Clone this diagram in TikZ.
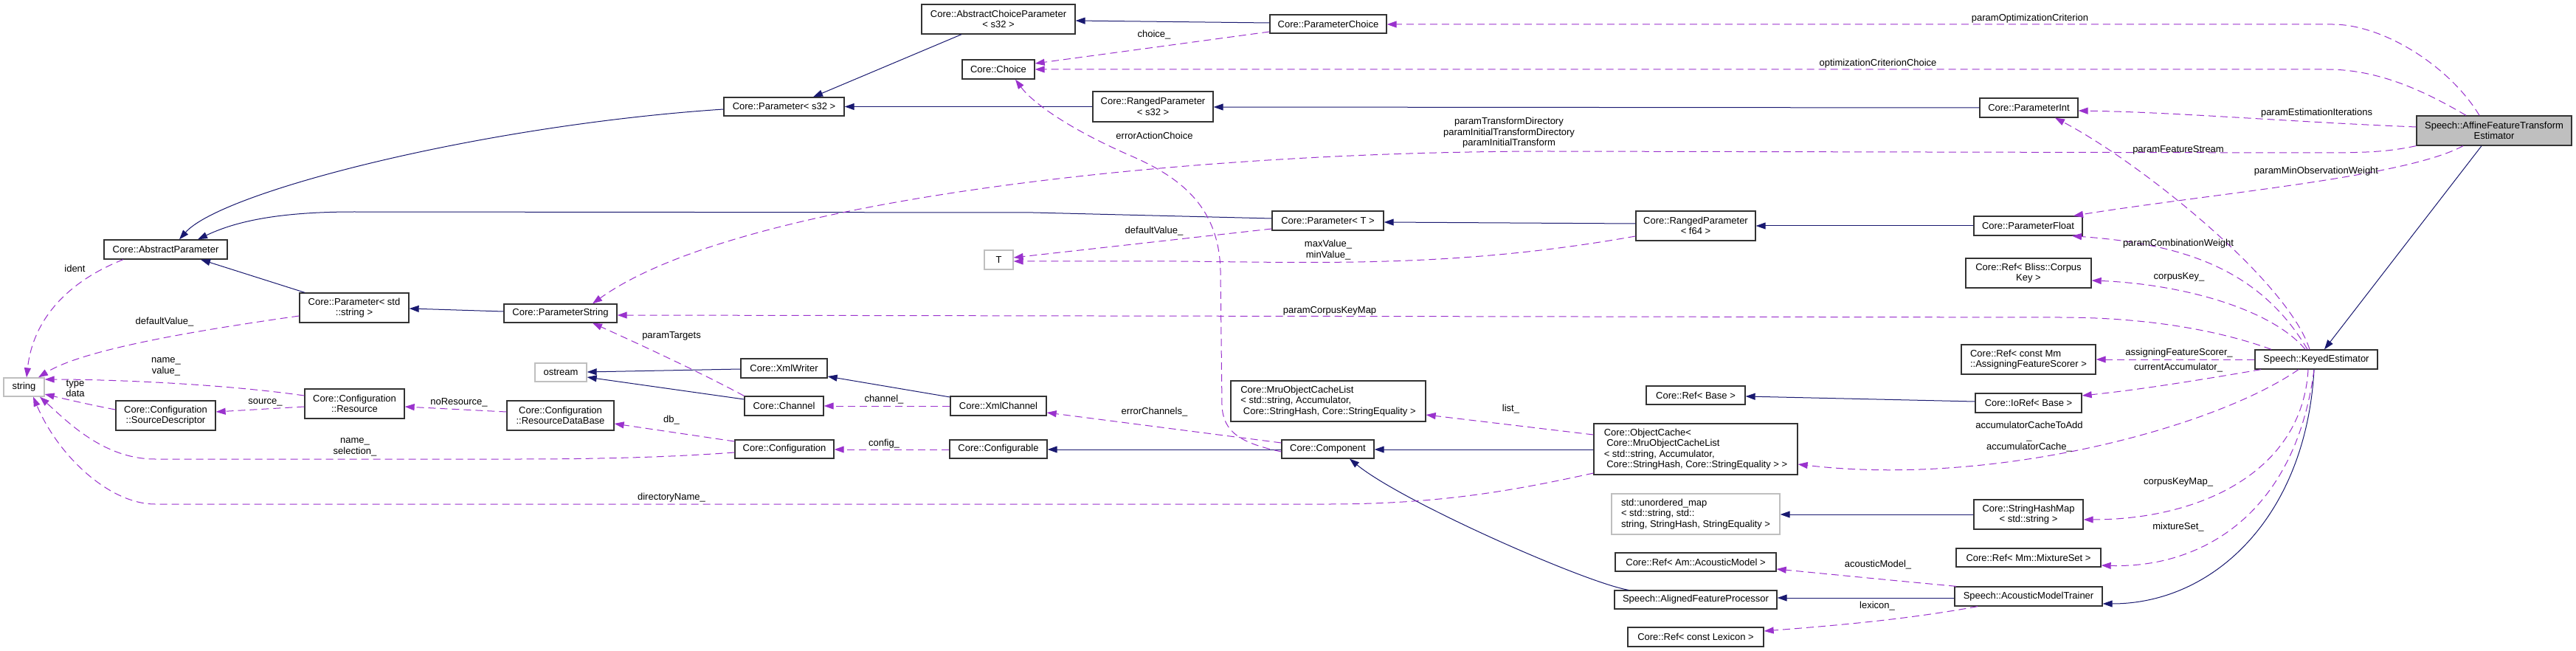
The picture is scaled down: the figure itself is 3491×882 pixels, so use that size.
\documentclass[tikz,border=0pt]{standalone}
\usepackage{fontspec}
\setmainfont{Liberation Sans}
\usetikzlibrary{arrows.meta}
\definecolor{inhc}{HTML}{191970}
\definecolor{usec}{HTML}{9A32CD}
\definecolor{grayb}{HTML}{BFBFBF}
\begin{document}
\begin{tikzpicture}[x=1pt,y=-1pt,
  cls/.style={draw=black!80, line width=1.3pt, fill=white, inner sep=0pt, align=center, font=\fontsize{13}{14.5}\selectfont},
  ext/.style={cls, draw=grayb},
  lcls/.style={cls, align=left},
  lbl/.style={inner sep=0pt, align=center, font=\fontsize{13}{14.5}\selectfont},
  inh/.style={draw=inhc, line width=1pt, -{Triangle[length=13pt,width=9pt]}},
  use/.style={draw=usec, line width=1pt, dash pattern=on 10pt off 6pt, -{Triangle[length=13pt,width=9pt]}},
]
\fill[white] (0,0) rectangle (3491,882);
\useasboundingbox (0,0) rectangle (3491,882);

% nodes
\node[cls, minimum width=167, minimum height=26] (AbsPar) at (224.5,338) {Core::AbstractParameter};
\node[cls, minimum width=148, minimum height=40] (ParStdStr) at (480,417) {Core::Parameter< std\\::string >};
\node[cls, minimum width=153, minimum height=25] (ParStr) at (759.5,424.5) {Core::ParameterString};
\node[ext, minimum width=55, minimum height=25] (string) at (32.5,524.5) {string};
\node[cls, minimum width=135, minimum height=40] (SrcDesc) at (224.5,563) {Core::Configuration\\::SourceDescriptor};
\node[cls, minimum width=135, minimum height=40] (Resource) at (480.5,547) {Core::Configuration\\::Resource};
\node[cls, minimum width=145, minimum height=40] (ResDB) at (759.5,563) {Core::Configuration\\::ResourceDataBase};
\node[ext, minimum width=70, minimum height=25] (ostream) at (760,504.5) {ostream};
\node[cls, minimum width=117, minimum height=26] (XmlWriter) at (1062.5,499) {Core::XmlWriter};
\node[cls, minimum width=107, minimum height=26] (Channel) at (1062.5,550) {Core::Channel};
\node[cls, minimum width=134, minimum height=25] (Config) at (1063,608.5) {Core::Configuration};
\node[cls, minimum width=130, minimum height=26] (XmlChannel) at (1353,550) {Core::XmlChannel};
\node[cls, minimum width=132, minimum height=25] (Configurable) at (1353,608.5) {Core::Configurable};
\node[cls, minimum width=125, minimum height=25] (Component) at (1799.5,608.5) {Core::Component};
\node[lcls, minimum width=264, minimum height=55] (MruList) at (1800,543.5) {Core::MruObjectCacheList\\< std::string, Accumulator,\\\hspace*{3.6pt}Core::StringHash, Core::StringEquality >};
\node[lcls, minimum width=276, minimum height=69] (ObjCache) at (2298,608.5) {Core::ObjectCache<\\\hspace*{3.6pt}Core::MruObjectCacheList\\< std::string, Accumulator,\\\hspace*{3.6pt}Core::StringHash, Core::StringEquality > >};
\node[cls, minimum width=134, minimum height=25] (RefBase) at (2298,535.5) {Core::Ref< Base >};
\node[ext, align=left, minimum width=228, minimum height=55] (UMap) at (2298,696.5) {std::unordered\_map\\< std::string, std::\\string, StringHash, StringEquality >};
\node[cls, minimum width=218, minimum height=25] (RefAM) at (2298,761.5) {Core::Ref< Am::AcousticModel >};
\node[cls, minimum width=220, minimum height=25] (AFP) at (2298,812.5) {Speech::AlignedFeatureProcessor};
\node[cls, minimum width=184, minimum height=26] (RefLex) at (2298,863) {Core::Ref< const Lexicon >};
\node[lcls, minimum width=182, minimum height=40] (RefAFS) at (2749,487) {Core::Ref< const Mm\\::AssigningFeatureScorer >};
\node[cls, minimum width=144, minimum height=26] (IoRef) at (2749,546) {Core::IoRef< Base >};
\node[cls, minimum width=148, minimum height=40] (SHM) at (2749,697) {Core::StringHashMap\\< std::string >};
\node[cls, minimum width=196, minimum height=25] (RefMix) at (2749,755.5) {Core::Ref< Mm::MixtureSet >};
\node[cls, minimum width=200, minimum height=26] (AMT) at (2749,808) {Speech::AcousticModelTrainer};
\node[cls, minimum width=166, minimum height=26] (KE) at (3139,487) {Speech::KeyedEstimator};
\node[cls, fill=grayb, minimum width=210, minimum height=40] (AFTE) at (3380,177) {Speech::AffineFeatureTransform\\Estimator};
\node[cls, minimum width=133, minimum height=26] (ParInt) at (2749.5,146) {Core::ParameterInt};
\node[cls, minimum width=147, minimum height=26] (ParFloat) at (2748.5,306) {Core::ParameterFloat};
\node[cls, minimum width=170, minimum height=40] (RefCorpus) at (2749,370) {Core::Ref< Bliss::Corpus\\Key >};
\node[cls, minimum width=162, minimum height=40] (RangedF64) at (2298,306) {Core::RangedParameter\\< f64 >};
\node[cls, minimum width=151, minimum height=26] (ParT) at (1799.5,299) {Core::Parameter< T >};
\node[ext, minimum width=39, minimum height=26] (T) at (1353.5,352) {T};
\node[cls, minimum width=163, minimum height=41] (RangedS32) at (1562.5,144.5) {Core::RangedParameter\\< s32 >};
\node[cls, minimum width=163, minimum height=25] (ParS32) at (1062.5,144.5) {Core::Parameter< s32 >};
\node[cls, minimum width=208, minimum height=40] (AbsChoice) at (1353,26) {Core::AbstractChoiceParameter\\< s32 >};
\node[cls, minimum width=98, minimum height=26] (Choice) at (1353,94) {Core::Choice};
\node[cls, minimum width=158, minimum height=25] (ParChoice) at (1800,32.5) {Core::ParameterChoice};

% inheritance
\draw[inh] (AbsChoice.south -| 1303,0) -- (ParS32.north -| 1102,0);
\draw[inh] (ParChoice.west |- 0,31) -- (AbsChoice.east |- 0,28);
\draw[inh] (ParS32.west |- 0,148) .. controls (650,170) and (300,260) .. (AbsPar.north -| 243,0);
\draw[inh] (RangedS32.west |- 0,144.5) -- (ParS32.east |- 0,144.5);
\draw[inh] (ParInt.west |- 0,146) -- (RangedS32.east |- 0,145);
\draw[inh] (ParT.west |- 0,296) -- (1400,288) -- (480,287) .. controls (370,287) and (315,302) .. (AbsPar.north -| 268,0);
\draw[inh] (RangedF64.west |- 0,303) -- (ParT.east |- 0,301);
\draw[inh] (ParFloat.west |- 0,306) -- (RangedF64.east |- 0,306);
\draw[inh] (ParStdStr.north -| 413,0) -- (AbsPar.south -| 272,0);
\draw[inh] (ParStr.west |- 0,422) -- (ParStdStr.east |- 0,418);
\draw[inh] (XmlWriter.west |- 0,500) -- (ostream.east |- 0,504);
\draw[inh] (Channel.west |- 0,541) -- (ostream.east |- 0,511);
\draw[inh] (XmlChannel.west |- 0,538) -- (XmlWriter.east |- 0,510);
\draw[inh] (Component.west |- 0,609) -- (Configurable.east |- 0,609);
\draw[inh] (ObjCache.west |- 0,609) -- (Component.east |- 0,609);
\draw[inh] (AFP.north -| 2207,0) .. controls (2150,790) and (1900,680) .. (Component.south -| 1829,0);
\draw[inh] (AMT.west |- 0,810) -- (AFP.east |- 0,810);
\draw[inh] (KE.south -| 3136,0) .. controls (3125,700) and (3000,818) .. (AMT.east |- 0,818);
\draw[inh] (AFTE.south -| 3363,0) -- (KE.north -| 3150,0);
\draw[inh] (IoRef.west |- 0,544) -- (RefBase.east |- 0,537);
\draw[inh] (SHM.west |- 0,697) -- (UMap.east |- 0,697);

% usage
\draw[use] (AFTE.north -| 3360,0) .. controls (3320,90) and (3230,33) .. (3161,33) -- (ParChoice.east |- 0,33);
\draw[use] (AFTE.north -| 3342,0) .. controls (3280,120) and (3220,94) .. (3153,94) -- (Choice.east |- 0,94);
\draw[use] (ParChoice.west |- 0,43) -- (Choice.east |- 0,86);
\draw[use] (AFTE.west |- 0,172) .. controls (3100,165) and (2950,152) .. (ParInt.east |- 0,150);
\draw[use] (AFTE.south west) .. controls (3230,207) and (3200,207) .. (3120,207) -- (2100,205) .. controls (1600,205) and (1000,270) .. (ParStr.north -| 803,0);
\draw[use] (AFTE.south -| 3338,0) .. controls (3260,240) and (3000,262) .. (ParFloat.north -| 2810,0);
\draw[use] (KE.north -| 3130,0) .. controls (3100,380) and (2900,220) .. (ParInt.south -| 2785,0);
\draw[use] (KE.north -| 3127,0) .. controls (3060,360) and (2950,330) .. (ParFloat.south -| 2808,0);
\draw[use] (KE.north -| 3124,0) .. controls (3080,420) and (2960,385) .. (RefCorpus.east |- 0,380);
\draw[use] (KE.north -| 3078,0) .. controls (3000,445) and (2900,430) .. (2792,430) -- (ParStr.east |- 0,427);
\draw[use] (KE.west |- 0,487) -- (RefAFS.east |- 0,487);
\draw[use] (KE.south -| 3064,0) .. controls (2980,515) and (2900,528) .. (IoRef.east |- 0,536);
\draw[use] (KE.south -| 3115,0) .. controls (3000,580) and (2700,660) .. (ObjCache.east |- 0,629);
\draw[use] (KE.south -| 3128,0) .. controls (3120,640) and (2980,704) .. (SHM.east |- 0,704);
\draw[use] (KE.south -| 3136,0) .. controls (3110,700) and (2980,770) .. (RefMix.east |- 0,766);
\draw[use] (AMT.north -| 2651,0) .. controls (2550,785) and (2480,778) .. (RefAM.east |- 0,771);
\draw[use] (AMT.south -| 2680,0) .. controls (2580,840) and (2480,848) .. (RefLex.east |- 0,855);
\draw[use] (ObjCache.west |- 0,589) -- (MruList.east |- 0,562);
\draw[use] (ObjCache.west |- 0,641) .. controls (2050,665) and (1950,683) .. (1800,683) -- (210,683) .. controls (150,683) and (80,620) .. (string.south -| 45,0);
\draw[use] (Config.west |- 0,613) .. controls (900,620) and (800,622) .. (700,622) -- (210,622) .. controls (140,622) and (90,570) .. (string.south -| 54,0);
\draw[use] (Resource.west |- 0,536) .. controls (300,520) and (150,514) .. (string.east |- 0,514);
\draw[use] (SrcDesc.west |- 0,555) .. controls (120,548) and (90,541) .. (string.east |- 0,534);
\draw[use] (Resource.west |- 0,551) -- (SrcDesc.east |- 0,558);
\draw[use] (ResDB.west |- 0,558) -- (Resource.east |- 0,551);
\draw[use] (Config.west |- 0,598) -- (ResDB.east |- 0,574);
\draw[use] (Configurable.west |- 0,609) -- (Config.east |- 0,609);
\draw[use] (XmlChannel.west |- 0,550) -- (Channel.east |- 0,550);
\draw[use] (Channel.north west) .. controls (950,505) and (870,468) .. (ParStr.south -| 803,0);
\draw[use] (Component.west |- 0,600) -- (XmlChannel.east |- 0,559);
\draw[use] (Component.west |- 0,612) .. controls (1680,600) and (1658,585) .. (1656,550) -- (1654,367) .. controls (1652,280) and (1600,240) .. (1530,210) .. controls (1450,175) and (1400,140) .. (Choice.south -| 1376,0);
\draw[use] (ParT.west |- 0,310) -- (T.east |- 0,349);
\draw[use] (RangedF64.west |- 0,320) .. controls (1980,362) and (1800,356) .. (1600,354) -- (T.east |- 0,354);
\draw[use] (ParStdStr.west |- 0,428) .. controls (250,450) and (110,475) .. (string.north -| 52,0);
\draw[use] (AbsPar.south -| 167,0) .. controls (95,380) and (45,430) .. (string.north -| 36,0);

% labels
\node[lbl] (lPOC) at (2751,25) {paramOptimizationCriterion};
\node[lbl] (lOCC) at (2545,86) {optimizationCriterionChoice};
\node[lbl] (lCh) at (1564,47) {choice\_};
\node[lbl] (lPEI) at (3139.5,153) {paramEstimationIterations};
\node[lbl] (lPTD) at (2045,180) {paramTransformDirectory\\paramInitialTransformDirectory\\paramInitialTransform};
\node[lbl] (lPMOW) at (3139,232) {paramMinObservationWeight};
\node[lbl] (lPFS) at (2952,203) {paramFeatureStream};
\node[lbl] (lPCW) at (2952,330) {paramCombinationWeight};
\node[lbl] (lCK) at (2953,375) {corpusKey\_};
\node[lbl] (lPCKM) at (1802,421) {paramCorpusKeyMap};
\node[lbl] (lAFS) at (2953,478) {assigningFeatureScorer\_};
\node[lbl] (lCA) at (2952,498) {currentAccumulator\_};
\node[lbl] (lAC) at (2750,592) {accumulatorCacheToAdd\\\_\\accumulatorCache\_};
\node[lbl] (lCKM) at (2952,653) {corpusKeyMap\_};
\node[lbl] (lMS) at (2952,714) {mixtureSet\_};
\node[lbl] (lAM) at (2545,765) {acousticModel\_};
\node[lbl] (lLex) at (2544,821) {lexicon\_};
\node[lbl] (lList) at (2047.5,554) {list\_};
\node[lbl] (lDir) at (910,674) {directoryName\_};
\node[lbl] (lNS) at (481,606) {name\_\\selection\_};
\node[lbl] (lNV) at (225,497) {name\_\\value\_};
\node[lbl] (lTD) at (102,526.5) {type\\data};
\node[lbl] (lSrc) at (359.5,545) {source\_};
\node[lbl] (lNoR) at (622,545) {noResource\_};
\node[lbl] (lDb) at (910,569) {db\_};
\node[lbl] (lCfg) at (1198,601) {config\_};
\node[lbl] (lChan) at (1198,541) {channel\_};
\node[lbl] (lPT) at (910,455) {paramTargets};
\node[lbl] (lEC) at (1564.5,558) {errorChannels\_};
\node[lbl] (lEAC) at (1564.5,184) {errorActionChoice};
\node[lbl] (lDV) at (1564,313) {defaultValue\_};
\node[lbl] (lMM) at (1800,338.5) {maxValue\_\\minValue\_};
\node[lbl] (lDV2) at (223,436) {defaultValue\_};
\node[lbl] (lId) at (101.5,364) {ident};
\end{tikzpicture}
\end{document}
